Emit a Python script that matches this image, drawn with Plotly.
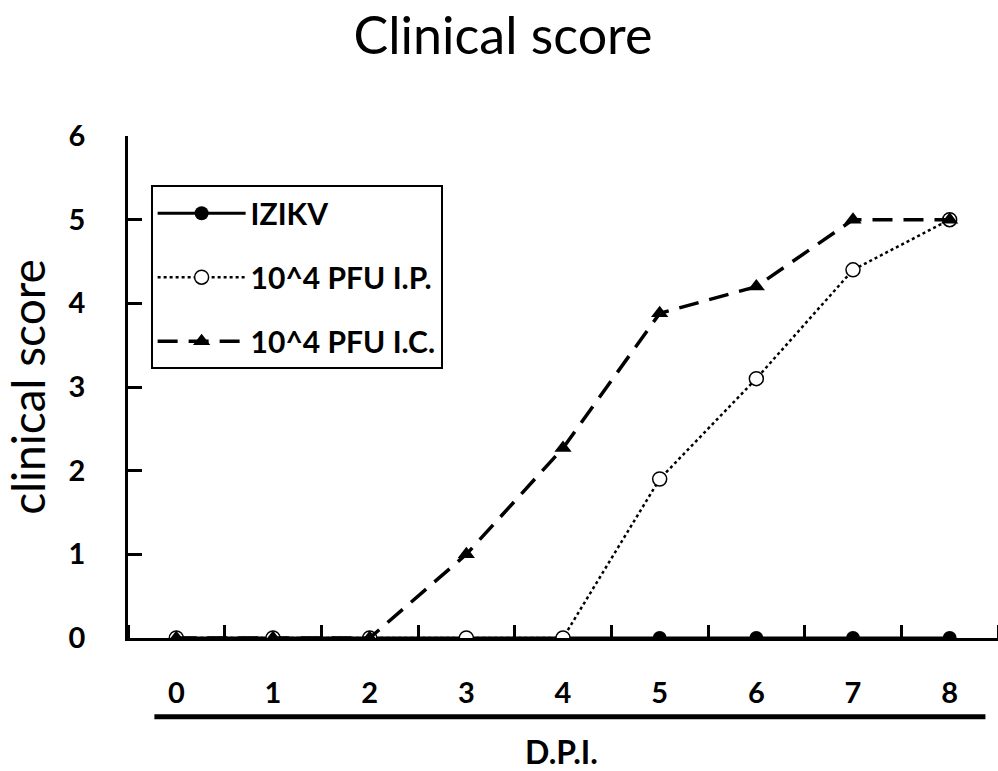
import plotly.graph_objects as go

days = [0, 1, 2, 3, 4, 5, 6, 7, 8]
izikv = [0, 0, 0, 0, 0, 0, 0, 0, 0]
pfu_ip = [0, 0, 0, 0, 0, 1.9, 3.1, 4.4, 5.0]
pfu_ic = [0, 0, 0, 1.0, 2.27, 3.88, 4.2, 5.0, 5.0]
y_ticks = [0, 1, 2, 3, 4, 5, 6]
minor_x = [d - 0.5 for d in days] + [8.5]

FONT = "Lato, 'Open Sans', sans-serif"

fig = go.Figure()
fig.add_trace(go.Scatter(x=days, y=izikv, name="IZIKV", mode="lines+markers", legendgroup="a",
                         line=dict(color="black", width=3),
                         marker=dict(symbol="circle", size=14, color="black")))
fig.add_trace(go.Scatter(x=days, y=pfu_ip, name="10^4 PFU I.P.", mode="lines+markers", legendgroup="b",
                         line=dict(color="black", width=2.5, dash="dot"),
                         marker=dict(symbol="circle", size=14, color="white",
                                     line=dict(color="black", width=1.5))))
fig.add_trace(go.Scatter(x=days, y=pfu_ic, name="10^4 PFU I.C.", mode="lines+markers", legendgroup="c",
                         line=dict(color="black", width=3.5, dash="20px,11px"),
                         marker=dict(symbol="triangle-up", size=15, color="black")))

fig.update_layout(
    width=998, height=771,
    plot_bgcolor="white", paper_bgcolor="white",
    margin=dict(l=128, r=0, t=136, b=133),
    title=dict(text="Clinical score", x=0.504, xanchor="center", y=0.953, yanchor="middle",
               font=dict(family=FONT, size=52, color="black")),
    showlegend=True,
    legend=dict(x=0.026, xanchor="left", y=0.902, yanchor="top",
                bordercolor="black", borderwidth=2, bgcolor="white",
                font=dict(family=FONT, size=30, color="black", weight="bold"),
                itemwidth=88, tracegroupgap=22),
    font=dict(family=FONT, color="black"),
)
fig.update_xaxes(range=[-0.5, 8.5], tickvals=days, ticktext=[str(d) for d in days],
                 ticks="", showgrid=False, zeroline=False,
                 showline=True, linecolor="black", linewidth=2.5,
                 tickfont=dict(family=FONT, size=29, color="black", weight="bold"),
                 ticklabelstandoff=27,
                 minor=dict(tickvals=minor_x, ticks="inside", ticklen=13, tickwidth=2.5,
                            tickcolor="black", showgrid=False))
fig.update_yaxes(range=[0, 6], tickvals=y_ticks, ticks="inside", ticklen=14, tickwidth=2.5,
                 tickcolor="black", showgrid=False, zeroline=False,
                 showline=True, linecolor="black", linewidth=2.5,
                 tickfont=dict(family=FONT, size=29, color="black", weight="bold"),
                 ticklabelstandoff=34,
                 title=dict(text="clinical score", standoff=14,
                            font=dict(family=FONT, size=46, color="black")))

fig.add_shape(type="line", xref="x", yref="paper", x0=-0.227, x1=8.37, y0=-0.157, y1=-0.157,
              line=dict(color="black", width=5))
fig.add_annotation(text="D.P.I.", xref="x", yref="paper", x=3.98, y=-0.227,
                   showarrow=False, yanchor="middle",
                   font=dict(family=FONT, size=32, color="black", weight="bold"))

fig.write_html("out.html", config={"displayModeBar": False},
               post_script="document.body.style.margin='0px';")
